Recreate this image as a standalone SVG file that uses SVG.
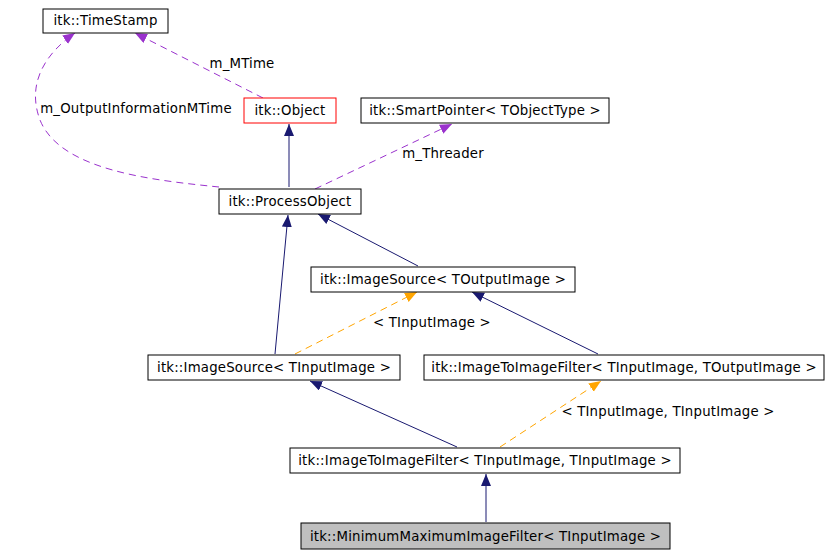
<svg xmlns="http://www.w3.org/2000/svg" width="828" height="555" viewBox="0 0 828 555">
<style>
.b{fill:#fff;stroke:#000;stroke-width:1}
.t{font-family:"DejaVu Sans",sans-serif;font-size:13.3px;letter-spacing:0.2px;fill:#000;text-anchor:middle}
.n{fill:none;stroke:#191970;stroke-width:1}
.p{fill:none;stroke:#9a32cd;stroke-width:1;stroke-dasharray:7,5}
.o{fill:none;stroke:#ffa500;stroke-width:1;stroke-dasharray:7,5}
</style>
<defs>
<marker id="an" markerUnits="userSpaceOnUse" markerWidth="14" markerHeight="12" refX="12" refY="5" orient="auto"><path d="M0,0 L12,5 L0,10 z" fill="#191970"/></marker>
<marker id="ap" markerUnits="userSpaceOnUse" markerWidth="14" markerHeight="12" refX="12" refY="5" orient="auto"><path d="M0,0 L12,5 L0,10 z" fill="#9a32cd"/></marker>
<marker id="ao" markerUnits="userSpaceOnUse" markerWidth="14" markerHeight="12" refX="12" refY="5" orient="auto"><path d="M0,0 L12,5 L0,10 z" fill="#ffa500"/></marker>
</defs>
<g id="edges">
<path class="n" d="M289,187 L289,124" marker-end="url(#an)"/>
<path class="p" d="M263,98 L135,33" marker-end="url(#ap)"/>
<text class="t" x="242" y="68">m_MTime</text>
<path class="p" d="M219,187 C150,180 60,170 40,120 C25,80 50,50 75,33" marker-end="url(#ap)"/>
<text class="t" x="136" y="113">m_OutputInformationMTime</text>
<path class="p" d="M315,189 L452,124" marker-end="url(#ap)"/>
<text class="t" x="443" y="158">m_Threader</text>
<path class="n" d="M418,266 L318,214" marker-end="url(#an)"/>
<path class="n" d="M275,354 L288,215" marker-end="url(#an)"/>
<path class="o" d="M295,354 L417,292" marker-end="url(#ao)"/>
<text class="t" x="432" y="327">&lt; TInputImage &gt;</text>
<path class="n" d="M598,354 L472,292" marker-end="url(#an)"/>
<path class="n" d="M457,447 L310,381" marker-end="url(#an)"/>
<path class="o" d="M500,447 L601,381" marker-end="url(#ao)"/>
<text class="t" x="668" y="416">&lt; TInputImage, TInputImage &gt;</text>
<path class="n" d="M486,522 L486,474" marker-end="url(#an)"/>
</g>
<g id="timestamp"><rect class="b" x="43" y="9" width="125" height="24"/><text class="t" x="105.5" y="25">itk::TimeStamp</text></g>
<g id="object"><rect class="b" x="244" y="98" width="92" height="25" style="stroke:#ff0000"/><text class="t" x="290" y="115">itk::Object</text></g>
<g id="smartpointer"><rect class="b" x="361" y="98" width="248" height="25"/><text class="t" x="485" y="115">itk::SmartPointer&lt; TObjectType &gt;</text></g>
<g id="processobject"><rect class="b" x="219" y="189" width="142" height="25"/><text class="t" x="290" y="206">itk::ProcessObject</text></g>
<g id="imagesource_out"><rect class="b" x="311" y="267" width="264" height="25"/><text class="t" x="443" y="284">itk::ImageSource&lt; TOutputImage &gt;</text></g>
<g id="imagesource_in"><rect class="b" x="148" y="355" width="252" height="25"/><text class="t" x="274" y="372">itk::ImageSource&lt; TInputImage &gt;</text></g>
<g id="itoi_inout"><rect class="b" x="424" y="355" width="400" height="25"/><text class="t" x="624" y="372">itk::ImageToImageFilter&lt; TInputImage, TOutputImage &gt;</text></g>
<g id="itoi_inin"><rect class="b" x="290" y="448" width="390" height="25"/><text class="t" x="485" y="465">itk::ImageToImageFilter&lt; TInputImage, TInputImage &gt;</text></g>
<g id="minmax"><rect class="b" x="301" y="523" width="369" height="26" style="fill:#bfbfbf"/><text class="t" x="485.5" y="541">itk::MinimumMaximumImageFilter&lt; TInputImage &gt;</text></g>
</svg>
